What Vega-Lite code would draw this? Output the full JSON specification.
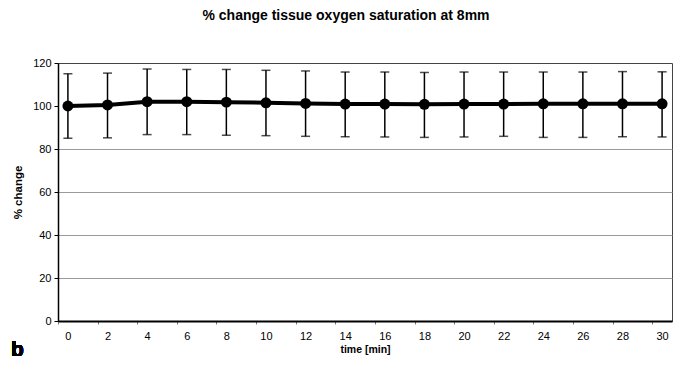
{
  "$schema": "https://vega.github.io/schema/vega-lite/v6.json",
  "autosize": "none",
  "width": 614,
  "height": 258,
  "padding": {"left": 58, "top": 63, "right": 2, "bottom": 44},
  "background": "white",
  "config": {
    "font": "Liberation Sans",
    "view": {"stroke": "#444", "strokeWidth": 1},
    "axis": {"labelFont": "Liberation Sans", "titleFont": "Liberation Sans", "labelColor": "black", "titleColor": "black", "tickColor": "black", "domainColor": "black"}
  },
  "title": {
    "text": "% change tissue oxygen saturation at 8mm",
    "fontSize": 14,
    "fontWeight": "bold",
    "font": "Liberation Sans",
    "anchor": "middle",
    "frame": "group",
    "dx": -19,
    "offset": 34,
    "color": "black"
  },
  "data": {
    "values": [
      {"time": 0, "mean": 100.0, "lo": 85.0, "hi": 115.0},
      {"time": 2, "mean": 100.5, "lo": 85.2, "hi": 115.3},
      {"time": 4, "mean": 102.0, "lo": 86.7, "hi": 117.2},
      {"time": 6, "mean": 102.0, "lo": 86.7, "hi": 117.0},
      {"time": 8, "mean": 101.8, "lo": 86.4, "hi": 117.0},
      {"time": 10, "mean": 101.5, "lo": 86.2, "hi": 116.6},
      {"time": 12, "mean": 101.2, "lo": 85.9, "hi": 116.3},
      {"time": 14, "mean": 100.9, "lo": 85.7, "hi": 115.8},
      {"time": 16, "mean": 100.9, "lo": 85.6, "hi": 115.8},
      {"time": 18, "mean": 100.8, "lo": 85.4, "hi": 115.6},
      {"time": 20, "mean": 100.9, "lo": 85.6, "hi": 115.8},
      {"time": 22, "mean": 100.9, "lo": 85.9, "hi": 115.8},
      {"time": 24, "mean": 101.0, "lo": 85.4, "hi": 115.8},
      {"time": 26, "mean": 101.0, "lo": 85.4, "hi": 115.8},
      {"time": 28, "mean": 101.0, "lo": 85.7, "hi": 116.0},
      {"time": 30, "mean": 101.0, "lo": 85.6, "hi": 115.9}
    ]
  },
  "layer": [
    {
      "mark": {"type": "rule", "color": "black", "strokeWidth": 1.5},
      "encoding": {
        "x": {
          "field": "time", "type": "quantitative",
          "scale": {"domain": [-0.5, 30.5], "nice": false, "zero": false},
          "axis": {
            "orient": "bottom",
            "values": [-0.5, 1.5, 3.5, 5.5, 7.5, 9.5, 11.5, 13.5, 15.5, 17.5, 19.5, 21.5, 23.5, 25.5, 27.5, 29.5],
            "labels": false, "title": null, "grid": false,
            "tickSize": 3, "tickColor": "#777", "tickWidth": 1,
            "domainWidth": 2, "domainColor": "black"
          }
        },
        "y": {
          "field": "lo", "type": "quantitative",
          "scale": {"domain": [0, 120], "nice": false},
          "axis": {
            "values": [0, 20, 40, 60, 80, 100, 120],
            "title": "% change", "titleFontSize": 11.5, "titleFontWeight": "bold",
            "titlePadding": 9,
            "labelFontSize": 11, "labelPadding": 3, "tickSize": 4, "tickWidth": 1,
            "domainWidth": 1.5,
            "grid": true, "gridColor": "#9a9a9a", "gridWidth": 1,
            "gridOpacity": {"condition": {"test": "datum.value > 90 || datum.value < 10", "value": 0}, "value": 1}
          }
        },
        "y2": {"field": "hi"}
      }
    },
    {
      "mark": {"type": "tick", "orient": "horizontal", "color": "black", "size": 9, "thickness": 1.5},
      "encoding": {
        "x": {"field": "time", "type": "quantitative", "axis": null},
        "y": {"field": "lo", "type": "quantitative"}
      }
    },
    {
      "mark": {"type": "tick", "orient": "horizontal", "color": "black", "size": 9, "thickness": 1.5},
      "encoding": {
        "x": {"field": "time", "type": "quantitative", "axis": null},
        "y": {"field": "hi", "type": "quantitative"}
      }
    },
    {
      "mark": {"type": "line", "color": "black", "strokeWidth": 4},
      "encoding": {
        "x": {"field": "time", "type": "quantitative", "axis": null},
        "y": {"field": "mean", "type": "quantitative"}
      }
    },
    {
      "mark": {"type": "circle", "color": "black", "opacity": 1, "size": 120},
      "encoding": {
        "x": {
          "field": "time", "type": "quantitative",
          "axis": {
            "orient": "bottom",
            "values": [0, 2, 4, 6, 8, 10, 12, 14, 16, 18, 20, 22, 24, 26, 28, 30],
            "ticks": false, "domain": false, "grid": false,
            "labelFontSize": 11, "labelPadding": 9,
            "title": "time [min]", "titleFontSize": 10.5, "titleFontWeight": "bold", "titlePadding": 3
          }
        },
        "y": {"field": "mean", "type": "quantitative"}
      }
    },
    {
      "mark": {"type": "text", "text": "b", "font": "Liberation Sans", "fontSize": 21, "fontWeight": "bold", "color": "black", "align": "center", "baseline": "middle"},
      "encoding": {
        "x": {"datum": -2.55, "type": "quantitative", "axis": null},
        "y": {"datum": -13.5, "type": "quantitative"}
      }
    }
  ],
  "resolve": {"axis": {"x": "independent"}}
}
